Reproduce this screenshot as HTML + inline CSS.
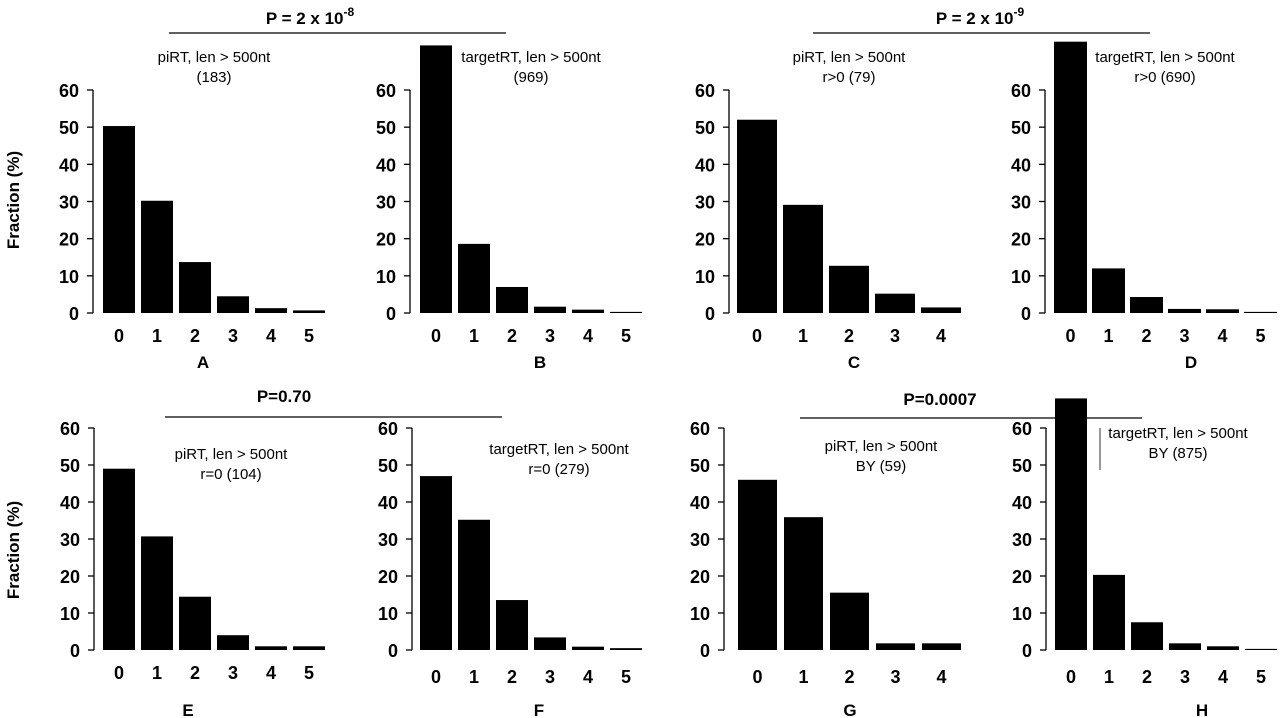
<!DOCTYPE html>
<html><head><meta charset="utf-8">
<style>
html,body{margin:0;padding:0;background:#fff;}
svg{display:block;font-family:"Liberation Sans",sans-serif;}
</style></head>
<body>
<svg id="fig" width="1280" height="718" viewBox="0 0 1280 718"></svg>
<script>
const catsA = ["0","1","2","3","4","5"];
const catsC = ["0","1","2","3","4"];
const yTicks = [0,10,20,30,40,50,60];
const valsA = [50.3,30.2,13.7,4.5,1.3,0.7];
const valsB = [72,18.6,7,1.7,0.9,0.3];
const valsC = [52,29.1,12.7,5.2,1.5];
const valsD = [73,12,4.3,1.1,1,0.3];
const valsE = [49,30.7,14.4,4,1,1];
const valsF = [47,35.2,13.5,3.4,0.9,0.5];
const valsG = [46,35.9,15.5,1.8,1.8];
const valsH = [68,20.3,7.5,1.8,1,0.3];

const NS="http://www.w3.org/2000/svg";
const svg=document.getElementById('fig');
function mk(tag,attrs,parent){const e=document.createElementNS(NS,tag);for(const k in attrs)e.setAttribute(k,attrs[k]);(parent||svg).appendChild(e);return e;}
function txt(s,x,y,size,weight,anchor,parent){const t=mk('text',{x:x,y:y,'font-size':size,'font-weight':weight,'text-anchor':anchor||'middle',fill:'#000'},parent);t.textContent=s;return t;}

const panels=[
 {id:'a',letter:'A',cats:catsA,vals:valsA,axisX:93,x0:103,step:38,bw:32,top:90,base:313,t1:'piRT, len > 500nt',t2:'(183)',tx:214,ty:62,lx:203,ly:368,tky:342},
 {id:'b',letter:'B',cats:catsA,vals:valsB,axisX:410,x0:420,step:38,bw:32,top:90,base:313,t1:'targetRT, len > 500nt',t2:'(969)',tx:531,ty:62,lx:540,ly:368,tky:342},
 {id:'c',letter:'C',cats:catsC,vals:valsC,axisX:729,x0:737,step:46,bw:40,top:90,base:313,t1:'piRT, len > 500nt',t2:'r>0 (79)',tx:849,ty:62,lx:854,ly:368,tky:342},
 {id:'d',letter:'D',cats:catsA,vals:valsD,axisX:1045,x0:1054,step:38,bw:33,top:90,base:313,t1:'targetRT, len > 500nt',t2:'r>0 (690)',tx:1165,ty:62,lx:1191,ly:368,tky:342},
 {id:'e',letter:'E',cats:catsA,vals:valsE,axisX:94,x0:103,step:38,bw:32,top:428,base:650,t1:'piRT, len > 500nt',t2:'r=0 (104)',tx:231,ty:459,lx:188,ly:716,tky:679},
 {id:'f',letter:'F',cats:catsA,vals:valsF,axisX:412,x0:420,step:38,bw:32,top:428,base:650,t1:'targetRT, len > 500nt',t2:'r=0 (279)',tx:559,ty:454,lx:539,ly:716,tky:683},
 {id:'g',letter:'G',cats:catsC,vals:valsG,axisX:724,x0:738,step:46,bw:39,top:428,base:650,t1:'piRT, len > 500nt',t2:'BY (59)',tx:881,ty:451,lx:850,ly:716,tky:683},
 {id:'h',letter:'H',cats:catsA,vals:valsH,axisX:1046,x0:1055,step:38,bw:32,top:428,base:650,t1:'targetRT, len > 500nt',t2:'BY (875)',tx:1178,ty:438,lx:1202,ly:716,tky:683}
];

panels.forEach(p=>{
  const g=mk('g',{});
  
  
  const yScale=v=>p.base-(v/60)*(p.base-p.top);
  const xBand=i=>p.x0+i*p.step;
  const ax=mk('line',{x1:p.axisX,y1:p.top,x2:p.axisX,y2:p.base,stroke:'#000','stroke-width':1.3},g);
  
  
  yTicks.forEach(t=>{
    const y=yScale(t);
    mk('line',{x1:p.axisX-6,y1:y,x2:p.axisX,y2:y,stroke:'#000','stroke-width':1.3},g);
    const l=txt(String(t),p.axisX-14,y+7,18,'bold','end',g);
    
    
  });
  p.vals.forEach((v,i)=>{
    const y=yScale(v);
    const r=mk('rect',{x:xBand(i),y:y,width:p.bw,height:p.base-y,fill:'#000'},g);
    
    
  });
  p.cats.forEach((c,i)=>{
    const l=txt(c,xBand(i)+p.bw/2,p.tky,18,'bold','middle',g);
    
    
  });
  const t1=txt(p.t1,p.tx,p.ty,15,'normal','middle',g);
  
  
  const t2=txt(p.t2,p.tx,p.ty+20,15,'normal','middle',g);
  
  
  const lt=txt(p.letter,p.lx,p.ly,17,'bold','middle',g);
  
  
});

[{y:200},{y:550}].forEach(o=>{
  const t=txt('Fraction (%)',0,0,17,'bold','middle');
  t.setAttribute('transform','translate(19,'+o.y+') rotate(-90)');
  
  
});

function pval(parts,cx,ty,x1,x2,ly){
  const t=mk('text',{x:cx,y:ty,'font-size':17,'font-weight':'bold','text-anchor':'middle',fill:'#000'});
  
  
  const s1=mk('tspan',{},t); s1.textContent=parts[0];
  if(parts[1]){const s2=mk('tspan',{dy:-8,'font-size':12},t); s2.textContent=parts[1];}
  const l=mk('line',{x1:x1,y1:ly,x2:x2,y2:ly,stroke:'#000','stroke-width':1.2});
  
  
}
pval(['P = 2 x 10','-8'],310,24,169,506,33);
pval(['P = 2 x 10','-9'],980,24,813,1150,33);
pval(['P=0.70'],284,402,165,502,417);
pval(['P=0.0007'],940,405,800,1142,418);
const thin=mk('line',{x1:1100,y1:428,x2:1100,y2:470,stroke:'#000','stroke-width':0.8});


</script>
</body></html>
